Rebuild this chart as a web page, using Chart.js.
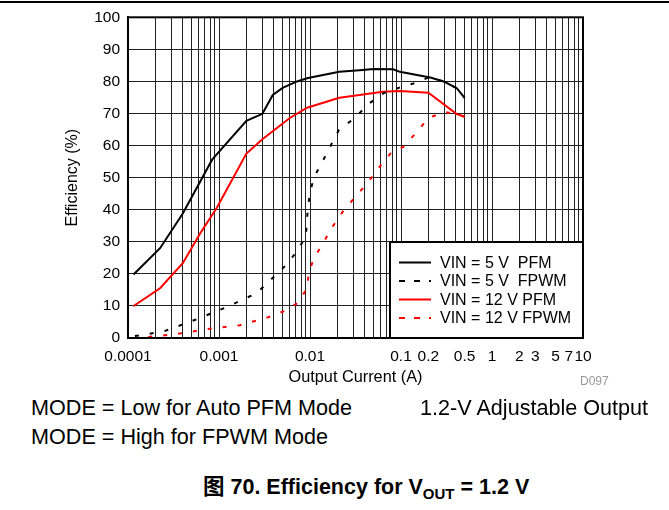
<!DOCTYPE html>
<html>
<head>
<meta charset="utf-8">
<title>Efficiency for VOUT = 1.2 V</title>
<script src="https://cdn.jsdelivr.net/npm/chart.js@4.4.0/dist/chart.umd.min.js"></script>
<style>
body { margin: 0; background: #fff; font-family: "Liberation Sans", Arial, sans-serif; }
#page { position: relative; width: 669px; height: 510px; overflow: hidden; background: #fff; }
#topRule { position: absolute; left: 0; top: 1px; width: 669px; height: 2px; background: #000; }
#myChart { position: absolute; left: 0; top: 0; }
.note { position: absolute; font-size: 21.6px; line-height: 1; color: #000; white-space: pre; }
#figId { position: absolute; left: 580px; top: 375px; font-size: 12px; line-height: 1; color: #999; }
#caption { position: absolute; left: 203px; top: 477px; font-size: 21.5px; line-height: 1; font-weight: bold;
           font-family: "Liberation Sans", "Noto Sans CJK SC", sans-serif; white-space: pre; }
#caption span { font-size: 15px; position: relative; top: 5px; }
</style>
</head>
<body>
<div id="page">
    <div id="topRule"></div>
    <canvas id="myChart" width="669" height="395"></canvas>
    <div id="figId">D097</div>
    <div class="note" style="left:31px; top:397px;">MODE = Low for Auto PFM Mode</div>
    <div class="note" style="left:420px; top:397px;">1.2-V Adjustable Output</div>
    <div class="note" style="left:31px; top:426px;">MODE = High for FPWM Mode</div>
    <div id="caption">图 70. Efficiency for V<span>OUT</span> = 1.2 V</div>
</div>
<script>
// Series (current in A, efficiency in %)
var pfm5X = [0.000115, 0.000225, 0.0004, 0.00084, 0.002, 0.003, 0.0039, 0.005, 0.0072, 0.0093, 0.0108, 0.021, 0.035, 0.05, 0.082, 0.097, 0.21, 0.3, 0.41, 0.5];
var pfm5Y = [19.8, 28, 38.8, 55.6, 67.7, 69.9, 75.8, 78, 80, 81, 81.4, 83, 83.5, 83.9, 83.8, 83, 81.2, 79.9, 77.9, 74.9];

var fpwm5X = [0.000119, 0.00025, 0.00054, 0.0012, 0.0026, 0.0053, 0.0072, 0.009, 0.0095, 0.0102, 0.0113, 0.0139, 0.017, 0.0208, 0.031, 0.044, 0.065, 0.094, 0.143, 0.2, 0.3, 0.41, 0.5];
var fpwm5Y = [0.6, 2.1, 5.6, 9.6, 14, 22.4, 27, 31.7, 41, 46.5, 50.6, 55.3, 60.2, 64.9, 68.6, 73, 76.4, 78, 79.5, 81.2, 79.9, 77.9, 74.9];

var pfm12X = [0.000114, 0.000225, 0.0004, 0.00062, 0.00095, 0.002, 0.003, 0.006, 0.0093, 0.021, 0.035, 0.063, 0.097, 0.2, 0.41, 0.5];
var pfm12Y = [9.9, 15.5, 23.3, 32.6, 40.7, 57.5, 62, 68.6, 71.8, 74.9, 75.8, 76.8, 77, 76.5, 69.8, 69];

var fpwm12X = [0.000167, 0.00035, 0.00076, 0.0017, 0.0035, 0.0052, 0.0076, 0.0093, 0.0097, 0.011, 0.0139, 0.0175, 0.0225, 0.031, 0.043, 0.057, 0.078, 0.106, 0.15, 0.2, 0.3, 0.41, 0.5];
var fpwm12Y = [0.3, 1.3, 2.8, 4.0, 6.5, 8.4, 11.2, 15.8, 20.2, 24.8, 29.5, 34.5, 39.1, 43.8, 48.4, 53.1, 57.8, 59.6, 64.3, 68.6, 70.5, 69.8, 69];

var seriesLabels = ['VIN = 5 V  PFM', 'VIN = 5 V  FPWM', 'VIN = 12 V PFM', 'VIN = 12 V FPWM'];

// Axis ticks
var xDecades = [0.0001, 0.001, 0.01, 0.1, 1];
var xSteps = [1, 2, 3, 4, 5, 6, 7, 8, 9];
var xLabelValues = [0.0001, 0.001, 0.01, 0.1, 0.2, 0.5, 1, 2, 3, 5, 7, 10];
var xLabelTexts = ['0.0001', '0.001', '0.01', '0.1', '0.2', '0.5', '1', '2', '3', '5', '7', '10'];
var yTicks = [0, 10, 20, 30, 40, 50, 60, 70, 80, 90, 100];

// Plot box inside the canvas
var plotLeft = 128;
var plotRight = 583;
var plotTop = 16;
var plotBottom = 338;

var fontFamily = '"Liberation Sans", Arial, sans-serif';

function toPoints(xs, ys)
{
    var pts = [];
    for (var i = 0; i < xs.length; i++) {
        pts.push({x: xs[i], y: ys[i]});
    }
    return pts;
}

// Label only the values printed on the original axis
function xLabelFor(v)
{
    for (var i = 0; i < xLabelValues.length; i++) {
        if (Math.abs(v - xLabelValues[i]) < xLabelValues[i] * 1e-6) return xLabelTexts[i];
    }
    return '';
}

// Legend box in the lower right corner of the plot
var boxLegend = {
    id: 'boxLegend',
    afterDatasetsDraw: function(chart) {
        var ctx = chart.ctx;
        var area = chart.chartArea;
        var w = 193, h = 96;
        var left = area.right - w, top = area.bottom - h;
        ctx.save();
        ctx.fillStyle = '#fff';
        ctx.fillRect(left, top, w, h);
        ctx.lineWidth = 2;
        ctx.strokeStyle = '#000';
        ctx.strokeRect(left, top, w, h);
        ctx.font = '16px ' + fontFamily;
        ctx.textBaseline = 'middle';
        var rows = [20.5, 39, 57.5, 76];
        chart.data.datasets.forEach(function(ds, i) {
            var y = top + rows[i];
            ctx.beginPath();
            ctx.strokeStyle = ds.borderColor;
            ctx.lineWidth = 2;
            ctx.setLineDash(ds.borderDash && ds.borderDash.length ? [6, 9] : []);
            ctx.moveTo(left + 9, y);
            ctx.lineTo(left + 41, y);
            ctx.stroke();
            ctx.setLineDash([]);
            ctx.fillStyle = '#000';
            ctx.fillText(ds.label, left + 50, y + 1);
        });
        ctx.restore();
    },
    afterDraw: function(chart) {
        // Heavy frame around the whole plot
        var ctx = chart.ctx;
        var area = chart.chartArea;
        ctx.save();
        ctx.lineWidth = 2;
        ctx.strokeStyle = '#000';
        ctx.strokeRect(area.left, area.top, area.right - area.left, area.bottom - area.top);
        ctx.restore();
    }
};

var canvas = document.getElementById('myChart');
var ctx = canvas.getContext('2d');
var gridColor = '#222';

var config = {
    type: 'line',
    data: {
        datasets: [{
            label: seriesLabels[0],
            data: toPoints(pfm5X, pfm5Y),
            borderColor: '#000',
            borderWidth: 2
        }, {
            label: seriesLabels[1],
            data: toPoints(fpwm5X, fpwm5Y),
            borderColor: '#000',
            borderWidth: 2,
            borderDash: [4, 11]
        }, {
            label: seriesLabels[2],
            data: toPoints(pfm12X, pfm12Y),
            borderColor: '#ff0000',
            borderWidth: 2
        }, {
            label: seriesLabels[3],
            data: toPoints(fpwm12X, fpwm12Y),
            borderColor: '#ff0000',
            borderWidth: 2,
            borderDash: [4, 11]
        }]
    },
    options: {
        responsive: false,
        animation: false,
        events: [],
        elements: {
            point: { radius: 0 },
            line: { tension: 0, fill: false }
        },
        layout: {
            padding: { left: 0, right: 669 - plotRight, top: plotTop, bottom: 0 }
        },
        plugins: {
            legend: { display: false },
            tooltip: { enabled: false }
        },
        scales: {
            x: {
                type: 'logarithmic',
                min: 0.0001,
                max: 10,
                afterBuildTicks: function(scale) {
                    var ticks = [];
                    xDecades.forEach(function(d) {
                        xSteps.forEach(function(s) { ticks.push({value: d * s}); });
                    });
                    ticks.push({value: 10});
                    scale.ticks = ticks;
                },
                afterFit: function(scale) { scale.height = 395 - plotBottom; },
                ticks: {
                    autoSkip: false,
                    maxRotation: 0,
                    minRotation: 0,
                    padding: 9,
                    color: '#000',
                    font: { family: fontFamily, size: 15.5 },
                    callback: function(value) { return xLabelFor(value); }
                },
                grid: { color: gridColor, lineWidth: 1, drawTicks: false },
                border: { display: true, color: '#000', width: 2 },
                title: {
                    display: true,
                    text: 'Output Current (A)',
                    color: '#000',
                    font: { family: fontFamily, size: 16.3 },
                    padding: { top: 0, bottom: 8 }
                }
            },
            y: {
                type: 'linear',
                min: 0,
                max: 100,
                afterBuildTicks: function(scale) {
                    scale.ticks = yTicks.map(function(v) { return {value: v}; });
                },
                afterFit: function(scale) { scale.width = plotLeft; },
                ticks: {
                    padding: 8,
                    color: '#000',
                    font: { family: fontFamily, size: 15.5 }
                },
                grid: { color: gridColor, lineWidth: 1, drawTicks: false },
                border: { display: true, color: '#000', width: 2 },
                title: {
                    display: true,
                    text: 'Efficiency (%)',
                    color: '#000',
                    font: { family: fontFamily, size: 16 },
                    padding: { top: 63, bottom: 0 }
                }
            }
        }
    },
    plugins: [boxLegend]
};

var chart = new Chart(ctx, config);
</script>
</body>
</html>
